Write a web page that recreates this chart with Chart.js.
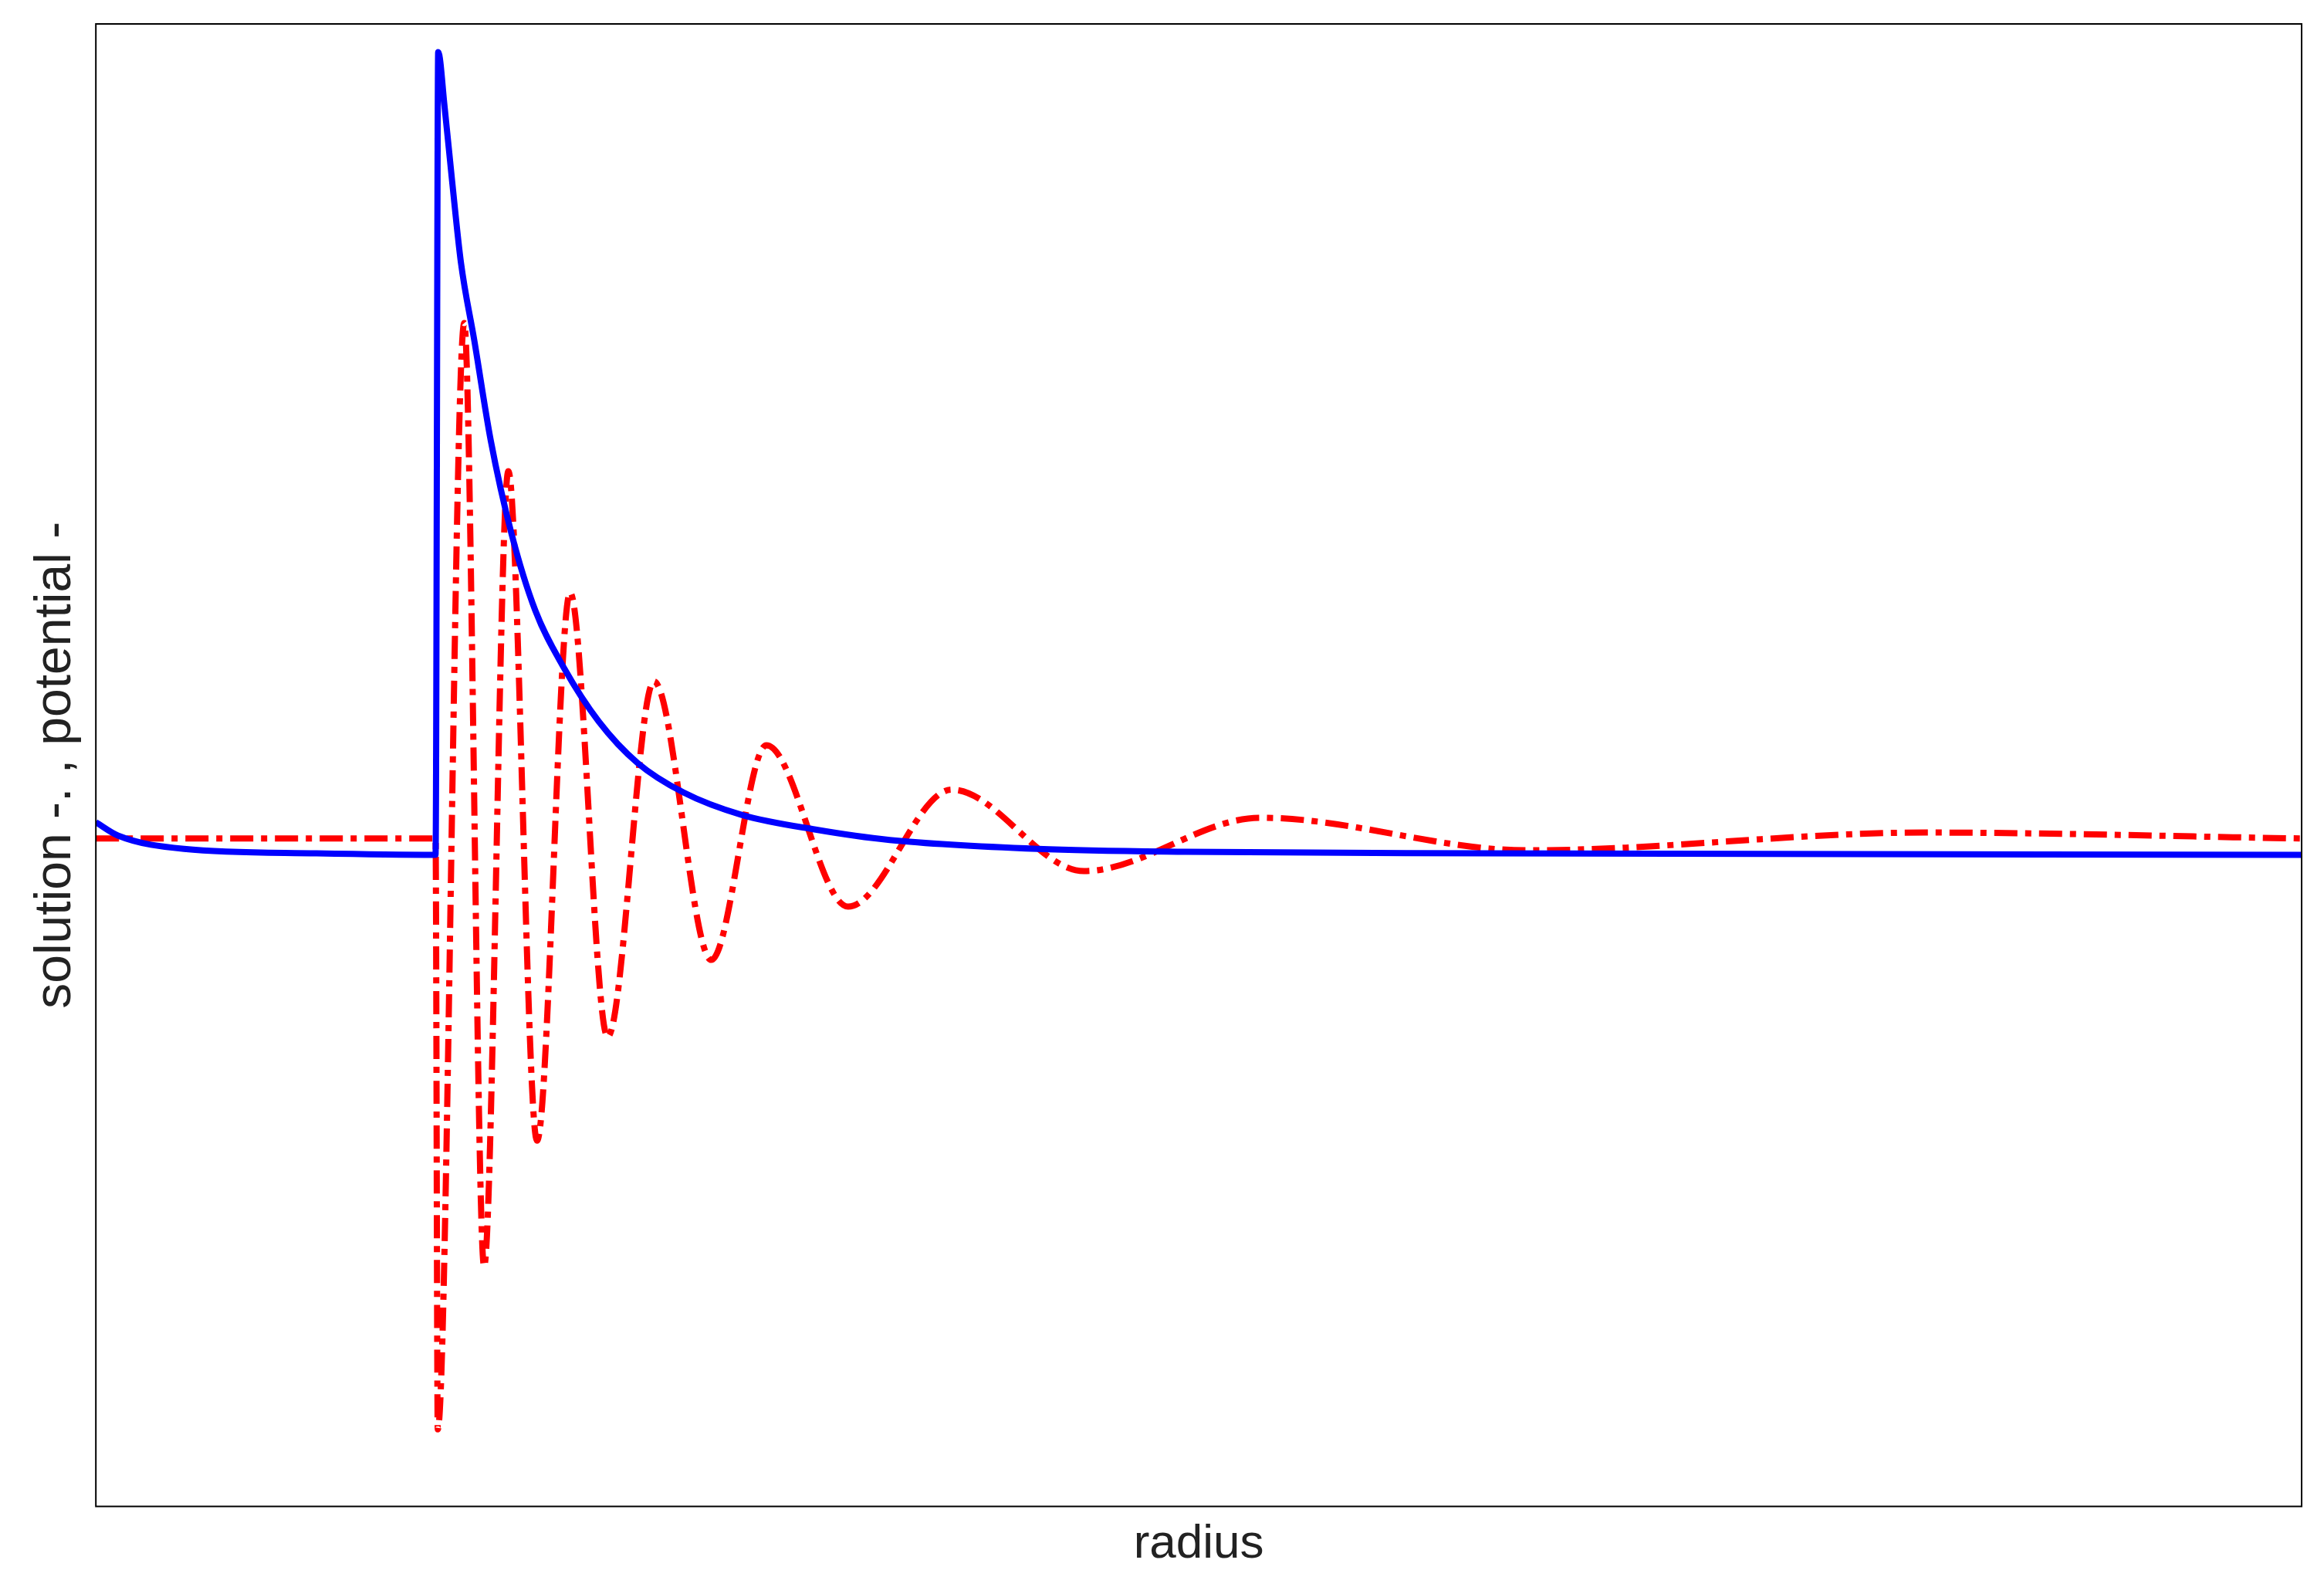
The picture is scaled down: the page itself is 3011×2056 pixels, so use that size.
<!DOCTYPE html>
<html>
<head>
<meta charset="UTF-8">
<title>solution and potential</title>
<script src="https://cdn.jsdelivr.net/npm/chart.js"></script>
<style>
    body { margin: 0; background: white; }
    #wrap { width: 3011px; height: 2056px; }
</style>
</head>
<body>
<div id="wrap"><canvas id="plot"></canvas></div>
<script>
    // radius in arbitrary units 0..1000
    const potX = [0, 10, 40, 100, 154, 155.2, 158.1, 161.5, 165.5, 171.6, 179, 188.4, 199.2, 211.9, 228, 245.6, 266.5, 292.7, 326.3, 359.9, 427, 494, 629, 1000];
    const potY = [22, 13, 4, 1, 0, 542, 505, 455, 400, 347, 280, 217, 165, 127, 90, 62, 42, 27, 17, 10, 4, 2, 1, 0];

    const solX = [0, 100, 154, 155, 167, 176, 187, 200, 215, 232, 253, 279, 304, 341, 388, 448, 528, 649, 830, 1000];
    const solY = [11, 11, 11, -388, 359, -278, 259, -193, 177, -123, 117, -71, 74, -35, 44, -11, 25, 3, 15, 11];

    const pts = (xs, ys) => xs.map((x, i) => ({ x: x, y: ys[i] }));

    const frame = {
        id: 'frame',
        afterDraw(chart) {
            const a = chart.chartArea, c = chart.ctx;
            c.save();
            c.strokeStyle = '#000';
            c.lineWidth = 2;
            c.strokeRect(a.left, a.top, a.right - a.left, a.bottom - a.top);
            c.restore();
        }
    };

    new Chart(document.getElementById('plot'), {
        type: 'line',
        data: {
            datasets: [
                {
                    label: 'potential',
                    data: pts(potX, potY),
                    borderColor: '#0000ff',
                    borderWidth: 8,
                    pointRadius: 0,
                    cubicInterpolationMode: 'monotone'
                },
                {
                    label: 'solution',
                    data: pts(solX, solY),
                    borderColor: '#ff0000',
                    borderWidth: 8,
                    borderDash: [30, 10, 8, 10],
                    pointRadius: 0,
                    cubicInterpolationMode: 'monotone'
                }
            ]
        },
        options: {
            responsive: true,
            maintainAspectRatio: false,
            animation: false,
            layout: { padding: { top: 31, right: 29, left: 29, bottom: 14 } },
            plugins: { legend: { display: false }, tooltip: { enabled: false } },
            scales: {
                x: {
                    type: 'linear', min: 0, max: 1000,
                    grid: { display: false },
                    border: { display: false },
                    ticks: { display: false },
                    title: { display: true, text: 'radius', color: '#222',
                        font: { family: 'Liberation Sans', size: 62 } }
                },
                y: {
                    min: -440, max: 561,
                    grid: { display: false },
                    border: { display: false },
                    ticks: { display: false },
                    title: { display: true, text: 'solution -. , potential -', color: '#222',
                        font: { family: 'Liberation Sans', size: 66 } }
                }
            }
        },
        plugins: [frame]
    });
</script>
</body>
</html>
